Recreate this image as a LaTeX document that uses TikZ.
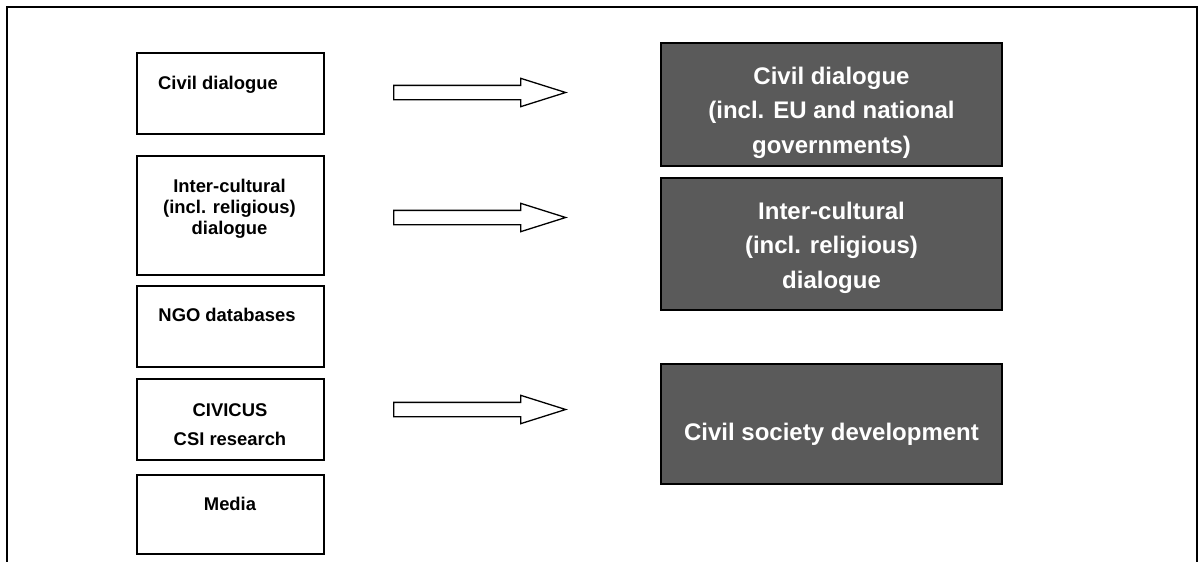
\documentclass[tikz,border=0pt]{standalone}
\usepackage{fontspec}
\setmainfont{Liberation Sans}
\usepackage{tikz}
\usetikzlibrary{shapes}
\usepackage{xcolor}
\definecolor{cgdark}{RGB}{90,90,90}
\tikzstyle{srcbox} = [rectangle, minimum width=187pt, inner sep=0pt, draw=black, line width=1.8pt]
\tikzstyle{areabox} = [rectangle, minimum width=341pt, inner sep=0pt, draw=black, fill=cgdark, line width=1.5pt]
\tikzstyle{srctext} = [anchor=base, align=center, font=\fontsize{18.4}{20.7}\selectfont\bfseries]
\tikzstyle{areatext} = [anchor=base, align=center, text=white, font=\fontsize{24}{34.5}\selectfont\bfseries]
\tikzstyle{fatarrow} = [single arrow, anchor=tail, draw=black, line width=1.3pt, minimum height=172pt, single arrow head extend=7pt, single arrow tip angle=35, inner xsep=0pt, inner ysep=6.5pt]

\begin{document}
\begin{tikzpicture}[x=1pt, y=-1pt]
\useasboundingbox (0,0) rectangle (1200,562);
% Frame (open at the bottom)
\draw[line width=2.3pt] (7,562) -- (7,7) -- (1197,7) -- (1197,562);

% Sources (base = last line)
\node[srcbox, minimum height=81pt] (civil) at (230.5,93.5) {};
\node[srctext] (civil-txt) at (218,89) {Civil dialogue};
\node[srcbox, minimum height=119pt] (inter) at (230.5,215.5) {};
\node[srctext] (inter-txt) at (229.5,234) {Inter-cultural\\(incl. religious)\\dialogue};
\node[srcbox, minimum height=81pt] (ngo) at (230.5,326.5) {};
\node[srctext] (ngo-txt) at (227,321.5) {NGO databases};
\node[srcbox, minimum height=81pt] (civicus) at (230.5,419.5) {};
\node[srctext, font=\fontsize{18.4}{29}\selectfont\bfseries] (civicus-txt) at (230,445) {CIVICUS\\CSI research};
\node[srcbox, minimum height=79pt] (media) at (230.5,514.5) {};
\node[srctext] (media-txt) at (230,510) {Media};

% Arrows
\node[fatarrow] (arr-civil) at (393,92.5) {};
\node[fatarrow] (arr-inter) at (393,217.5) {};
\node[fatarrow] (arr-csd) at (393,409.5) {};

% Areas
\node[areabox, minimum height=123pt] (civil-eu) at (831.5,104.5) {};
\node[areatext] (civil-eu-txt) at (831.5,153) {Civil dialogue\\(incl. EU and national\\governments)};
\node[areabox, minimum height=132pt] (inter-rel) at (831.5,244) {};
\node[areatext] (inter-rel-txt) at (831.5,288) {Inter-cultural\\(incl. religious)\\dialogue};
\node[areabox, minimum height=120pt] (csd) at (831.5,424) {};
\node[areatext] (csd-txt) at (831.5,440) {Civil society development};
\end{tikzpicture}
\end{document}
